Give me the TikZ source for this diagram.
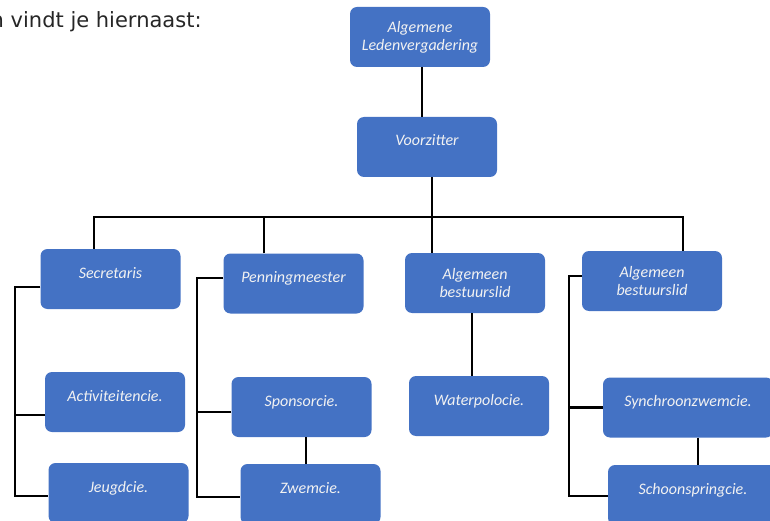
\documentclass[tikz,border=0pt]{standalone}
\usepackage{fontspec}
\setmainfont{Carlito}
\newfontfamily\introfont{DejaVu Sans}
\definecolor{boxblue}{HTML}{4472C4}
\definecolor{boxtext}{HTML}{F2F2F2}

\begin{document}
\begin{tikzpicture}[x=1pt,y=-1pt,
	box/.style={fill=boxblue,rounded corners=7pt,minimum width=140pt,minimum height=60pt,
		inner sep=0pt,text=boxtext,align=center,font=\fontsize{16}{18}\selectfont\itshape},
	one/.style={text height=10pt,text depth=12pt},
	wide/.style={minimum width=170pt},
	conn/.style={line width=2.3pt,black}]
	\useasboundingbox (0,0) rectangle (770,521);
	\clip (0,0) rectangle (770,521);

	\node[anchor=base west,inner sep=0pt,text=black!85,font=\introfont\fontsize{21}{24}\selectfont]
		(intro) at (-9.5,28) {n vindt je hiernaast:};

	\path
	(420,37)     	node[box]     	(alv)   	{Algemene\\Ledenvergadering}
	(427,147)    	node[box,one] 	(vz)    	{Voorzitter}
	(110.5,279)  	node[box,one] 	(secr)  	{Secretaris}
	(293.5,283.5)	node[box,one] 	(penn)  	{Penningmeester}
	(475,283)    	node[box]     	(ab1)   	{Algemeen\\bestuurslid}
	(652,281)    	node[box]     	(ab2)   	{Algemeen\\bestuurslid}
	(115,402)    	node[box,one] 	(act)   	{Activiteitencie.}
	(118.5,493)  	node[box,one] 	(jeugd) 	{Jeugdcie.}
	(301.5,407)  	node[box,one] 	(spons) 	{Sponsorcie.}
	(310.5,494)  	node[box,one] 	(zwem)  	{Zwemcie.}
	(479,406)    	node[box,one] 	(wpolo) 	{Waterpolocie.}
	(688,407.5)  	node[box,one,wide] (sync) 	{Synchroonzwemcie.}
	(693,495)    	node[box,one,wide] (schoon)	{Schoonspringcie.};

	\coordinate (bar) at (432,217);
	\coordinate (secbus) at (15,0);
	\coordinate (penbus) at (197,0);
	\coordinate (abbus) at (569,0);

	\draw[conn] ([xshift=2pt]alv.south) -- ([xshift=2pt]alv.south |- vz.north);
	\draw[conn] ([xshift=5pt]vz.south) -- (bar);
	\draw[conn] ([xshift=-16.5pt]secr.north) |- (bar) -| ([xshift=31pt]ab2.north);
	\draw[conn] ([xshift=-29.5pt]penn.north) -- ([xshift=-29.5pt]penn.north |- bar);
	\draw[conn] ([xshift=-43pt]ab1.north) -- (bar);

	% secretaris
	\draw[conn] ([yshift=-8pt]secr.west) -| ([yshift=-3pt]jeugd.west -| secbus) -- ([yshift=-3pt]jeugd.west);
	\draw[conn] ([yshift=-13pt]act.west) -- ([yshift=-13pt]act.west -| secbus);
	% penningmeester
	\draw[conn] ([yshift=5.5pt]penn.west) -| ([yshift=-3pt]zwem.west -| penbus) -- ([yshift=-3pt]zwem.west);
	\draw[conn] ([yshift=-5pt]spons.west) -- ([yshift=-5pt]spons.west -| penbus);
	\draw[conn] ([xshift=4.5pt]spons.south) -- ([xshift=4.5pt]spons.south |- zwem.north);
	% algemeen bestuurslid
	\draw[conn] ([xshift=-3pt]ab1.south) -- ([xshift=-3pt]ab1.south |- wpolo.north);
	\draw[conn] ([yshift=5pt]ab2.west) -| ([yshift=-1pt]schoon.west -| abbus) -- ([yshift=-1pt]schoon.west);
	\draw[conn] (sync.west) -- (sync.west -| abbus);
	\draw[conn] ([xshift=10pt]sync.south) -- ([xshift=10pt]sync.south |- schoon.north);
\end{tikzpicture}
\end{document}
